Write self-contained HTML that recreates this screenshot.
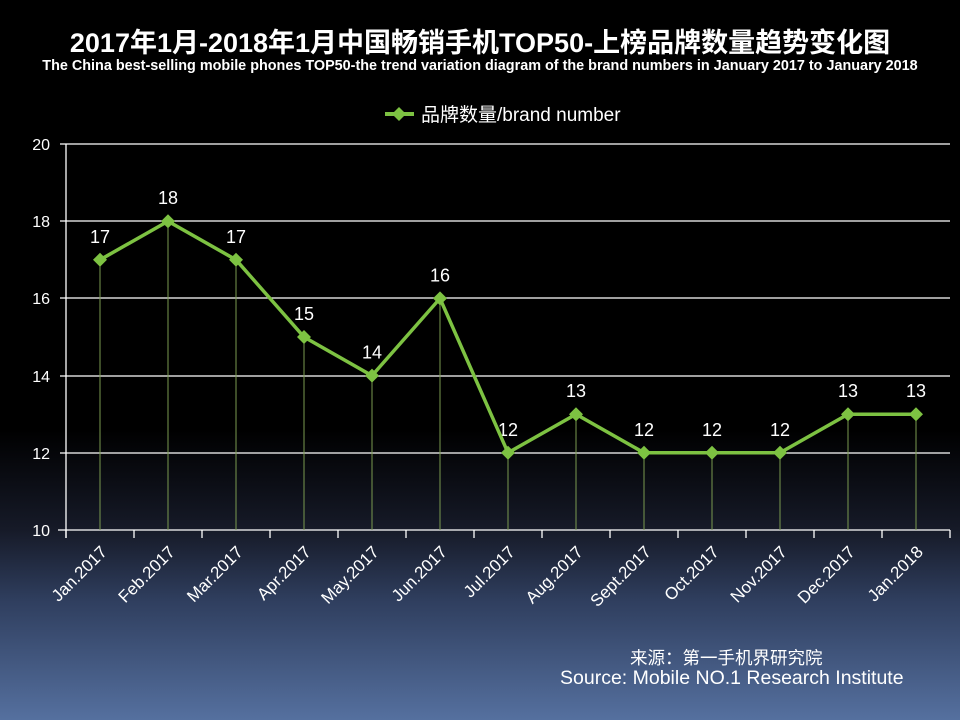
<!DOCTYPE html>
<html><head><meta charset="utf-8"><style>
body{margin:0;width:960px;height:720px;overflow:hidden;background:linear-gradient(to bottom,#000 0px,#000 430px,#161a28 530px,#2f3e5e 600px,#55709f 720px);}
svg{position:absolute;left:0;top:0}
</style></head><body>
<svg width="960" height="720" font-family="Liberation Sans, 'Noto Sans CJK SC', sans-serif">
<text x="480" y="52" text-anchor="middle" fill="#fff" font-size="27" font-weight="bold">2017年1月-2018年1月中国畅销手机TOP50-上榜品牌数量趋势变化图</text>
<text x="480" y="70" text-anchor="middle" fill="#fff" font-size="14.4" font-weight="bold">The China best-selling mobile phones TOP50-the trend variation diagram of the brand numbers in January 2017 to January 2018</text>
<line x1="385" y1="114" x2="414" y2="114" stroke="#7dc242" stroke-width="4"/>
<path d="M399 107 L406 114 L399 121 L392 114Z" fill="#7dc242"/>
<text x="421" y="121" fill="#fff" font-size="19">品牌数量/brand number</text>
<g stroke="#fff" stroke-width="1.3">
<line x1="60" y1="144" x2="950" y2="144"/><line x1="60" y1="221" x2="950" y2="221"/><line x1="60" y1="298" x2="950" y2="298"/><line x1="60" y1="376" x2="950" y2="376"/><line x1="60" y1="453" x2="950" y2="453"/><line x1="58" y1="530" x2="950" y2="530"/>
<line x1="66" y1="144" x2="66" y2="538"/>
</g>
<g fill="#fff" font-size="16" text-anchor="end">
<text x="50" y="150">20</text><text x="50" y="227">18</text><text x="50" y="304">16</text><text x="50" y="382">14</text><text x="50" y="459">12</text><text x="50" y="536">10</text>
</g>
<g id="g"></g>
</svg>
<script>
var v=[17,18,17,15,14,16,12,13,12,12,12,13,13],n=["Jan.2017","Feb.2017","Mar.2017","Apr.2017","May.2017","Jun.2017","Jul.2017","Aug.2017","Sept.2017","Oct.2017","Nov.2017","Dec.2017","Jan.2018"];
var s='',pts=[];
for(var i=0;i<=13;i++){var x=66+68*i;s+='<line x1="'+x+'" y1="530" x2="'+x+'" y2="538" stroke="#fff" stroke-width="1.3"/>';}
for(var i=0;i<13;i++){var x=100+68*i,y=530-(v[i]-10)*38.6;pts.push(x+','+y);
s+='<line x1="'+x+'" y1="'+y+'" x2="'+x+'" y2="530" stroke="#7a9a50" stroke-width="1"/>';
s+='<text x="'+x+'" y="'+(y-17)+'" fill="#fff" font-size="18" text-anchor="middle">'+v[i]+'</text>';
s+='<text transform="translate('+(x+8)+',553) rotate(-45)" fill="#fff" font-size="17" text-anchor="end">'+n[i]+'</text>';}
s+='<polyline points="'+pts.join(' ')+'" fill="none" stroke="#7dc242" stroke-width="3.5"/>';
pts.forEach(function(p){var a=p.split(',');var x=+a[0],y=+a[1];s+='<path d="M'+x+' '+(y-7)+' L'+(x+7)+' '+y+' L'+x+' '+(y+7)+' L'+(x-7)+' '+y+'Z" fill="#7dc242"/>';});
document.getElementById('g').innerHTML=s;
</script>
<div style="position:absolute;left:630px;top:645px;color:#fff;font:17.5px 'Liberation Sans','Noto Sans CJK SC',sans-serif">来源：第一手机界研究院</div>
<div style="position:absolute;left:560px;top:667px;color:#fff;font:19.5px 'Liberation Sans',sans-serif">Source: Mobile NO.1 Research Institute</div>
</body></html>
